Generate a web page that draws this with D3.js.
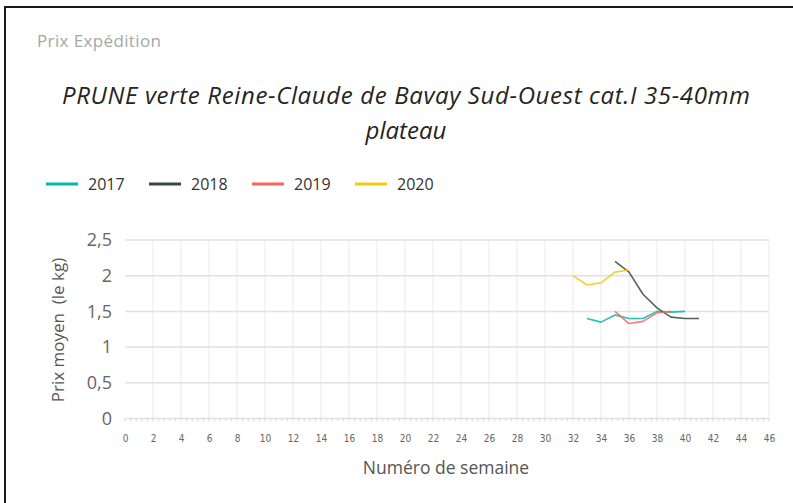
<!DOCTYPE html>
<html>
<head>
<meta charset="utf-8">
<script src="https://cdn.jsdelivr.net/npm/d3@7"></script>
<style>
  html, body { margin: 0; padding: 0; background: #fff; }
  svg { display: block; font-family: "Open Sans", "Noto Sans", sans-serif; }
</style>
</head>
<body>
<svg id="chart" width="793" height="503"></svg>
<script>
// data (week number -> average price per kg)
var years = ['2017', '2018', '2019', '2020'];
var colors = ['#01B8AA', '#374649', '#FD625E', '#F2C80F'];
var weeks2017 = [33, 34, 35, 36, 37, 38, 39, 40];
var prices2017 = [1.40, 1.35, 1.45, 1.40, 1.40, 1.50, 1.49, 1.50];
var weeks2018 = [35, 36, 37, 38, 39, 40, 41];
var prices2018 = [2.20, 2.05, 1.74, 1.55, 1.42, 1.40, 1.40];
var weeks2019 = [35, 36, 37, 38, 39];
var prices2019 = [1.50, 1.33, 1.36, 1.48, 1.50];
var weeks2020 = [32, 33, 34, 35, 36];
var prices2020 = [2.00, 1.87, 1.90, 2.05, 2.08];
var xTicks = d3.range(0, 47, 2);
var yTicks = [0, 0.5, 1, 1.5, 2, 2.5];

var series = [
    { name: years[0], color: colors[0], weeks: weeks2017, values: prices2017 },
    { name: years[1], color: colors[1], weeks: weeks2018, values: prices2018 },
    { name: years[2], color: colors[2], weeks: weeks2019, values: prices2019 },
    { name: years[3], color: colors[3], weeks: weeks2020, values: prices2020 }
];

var svg = d3.select('#chart');

// frame of the screenshot
svg.append('path')
    .attr('d', 'M5,503 L5,7 L793,7')
    .attr('fill', 'none')
    .attr('stroke', '#1a1a1a')
    .attr('stroke-width', 2);

svg.append('text')
    .attr('x', 37).attr('y', 47)
    .attr('font-size', 17)
    .attr('textLength', 124)
    .attr('fill', '#a6a6a6')
    .text('Prix Expédition');

var title = svg.append('text')
    .attr('text-anchor', 'middle')
    .attr('font-style', 'italic')
    .attr('font-size', 24)
    .attr('fill', '#252423');
title.append('tspan').attr('x', 406).attr('y', 104)
    .attr('textLength', 688)
    .text('PRUNE verte Reine-Claude de Bavay Sud-Ouest cat.I 35-40mm');
title.append('tspan').attr('x', 406).attr('y', 139)
    .text('plateau');

// legend
var legend = svg.append('g');
var item = legend.selectAll('g')
    .data(series)
    .enter().append('g')
    .attr('transform', function (d, i) { return 'translate(' + (46 + i * 103) + ',184)'; });
item.append('line')
    .attr('x1', 0).attr('x2', 32)
    .attr('stroke', function (d) { return d.color; })
    .attr('stroke-width', 3);
item.append('text')
    .attr('x', 42).attr('y', 6)
    .attr('font-size', 16)
    .attr('fill', '#333')
    .text(function (d) { return d.name; });

// plot area
var x = d3.scaleLinear().domain([0, 46]).range([125, 769]);
var y = d3.scaleLinear().domain([0, 2.5]).range([418.5, 240]);

var grid = svg.append('g');
grid.selectAll('line.v')
    .data(xTicks.filter(function (t) { return t > 0; }))
    .enter().append('line')
    .attr('class', 'v')
    .attr('x1', function (d) { return x(d); }).attr('x2', function (d) { return x(d); })
    .attr('y1', y(2.5)).attr('y2', y(0))
    .attr('stroke', '#eeeeee')
    .attr('stroke-width', 1.2);
grid.selectAll('line.h')
    .data(yTicks)
    .enter().append('line')
    .attr('class', 'h')
    .attr('x1', x(0)).attr('x2', x(46))
    .attr('y1', function (d) { return y(d); }).attr('y2', function (d) { return y(d); })
    .attr('stroke', '#e1e1e1')
    .attr('stroke-width', 1.5);

// minor ticks under the baseline
grid.selectAll('line.m')
    .data(d3.range(0, 46.01, 0.4))
    .enter().append('line')
    .attr('class', 'm')
    .attr('x1', function (d) { return x(d); }).attr('x2', function (d) { return x(d); })
    .attr('y1', y(0)).attr('y2', y(0) + 3)
    .attr('stroke', '#d6d6d6')
    .attr('stroke-width', 1);

var yAxis = svg.append('g')
    .attr('transform', 'translate(112,0)')
    .call(d3.axisLeft(y).tickValues(yTicks).tickSize(0).tickPadding(0)
        .tickFormat(function (d) { return String(d).replace('.', ','); }));
yAxis.select('.domain').remove();
yAxis.selectAll('text')
    .attr('font-family', '"Open Sans", sans-serif')
    .attr('font-size', 18)
    .attr('fill', '#666');

var xAxis = svg.append('g')
    .attr('transform', 'translate(0,435)')
    .call(d3.axisBottom(x).tickValues(xTicks).tickSize(0).tickPadding(0));
xAxis.select('.domain').remove();
xAxis.selectAll('text')
    .attr('font-family', '"Liberation Sans Narrow", "DejaVu Sans Condensed", sans-serif')
    .attr('font-size', 10)
    .attr('fill', '#666');

svg.append('text')
    .attr('x', 446).attr('y', 474)
    .attr('text-anchor', 'middle')
    .attr('font-size', 17.5)
    .attr('fill', '#555')
    .text('Numéro de semaine');

svg.append('text')
    .attr('transform', 'translate(64,330) rotate(-90)')
    .attr('text-anchor', 'middle')
    .attr('font-size', 17)
    .attr('fill', '#555')
    .attr('xml:space', 'preserve')
    .style('white-space', 'pre')
    .text('Prix moyen  (le kg)');

// lines
var line = d3.line()
    .x(function (d) { return x(d[0]); })
    .y(function (d) { return y(d[1]); });

svg.append('g').selectAll('path')
    .data(series)
    .enter().append('path')
    .attr('d', function (s) { return line(d3.zip(s.weeks, s.values)); })
    .attr('fill', 'none')
    .attr('stroke', function (s) { return s.color; })
    .attr('stroke-width', 1.6)
    .attr('stroke-linejoin', 'round')
    .attr('stroke-opacity', 0.85);
</script>
</body>
</html>
